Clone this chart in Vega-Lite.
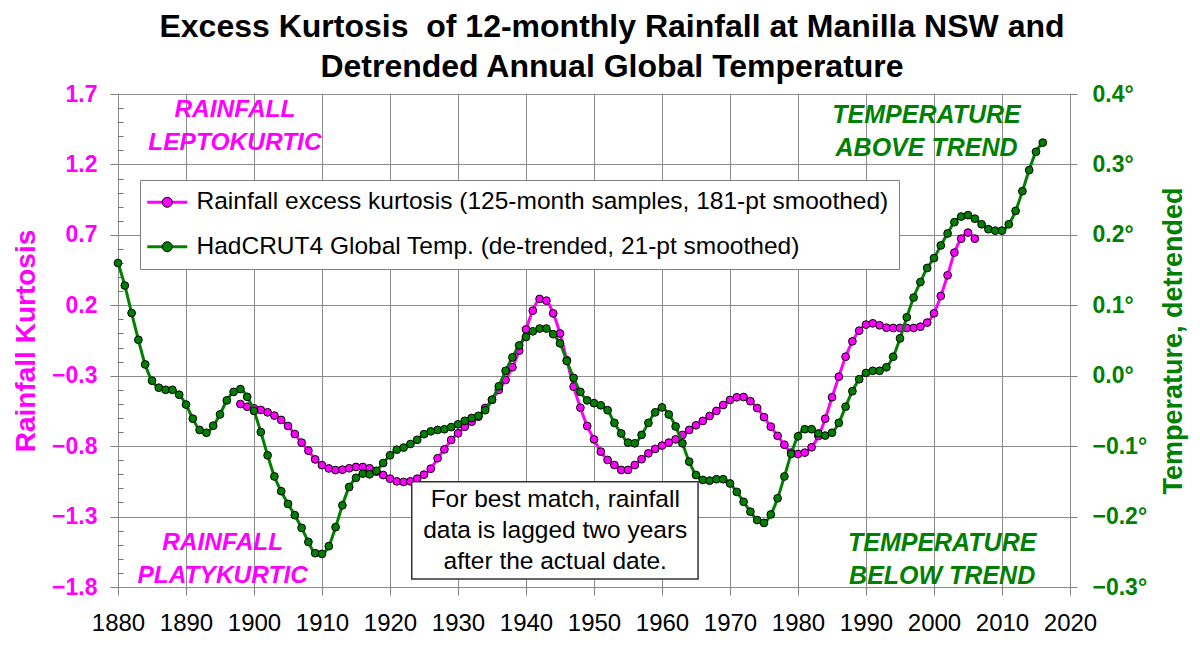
{
  "$schema": "https://vega.github.io/schema/vega-lite/v6.json",
  "width": 952,
  "height": 493,
  "autosize": {"type": "none"},
  "padding": {"left": 118, "top": 94, "right": 130, "bottom": 66},
  "background": "white",
  "config": {
    "font": "Liberation Sans",
    "view": {"stroke": "#707070", "strokeWidth": 1},
    "axis": {"domain": false, "gridColor": "#8c8c8c", "gridOpacity": 1, "tickColor": "#808080", "labelFont": "Liberation Sans", "titleFont": "Liberation Sans"},
    "legend": {"labelFont": "Liberation Sans"}
  },
  "title": {
    "text": ["Excess Kurtosis \u00a0of 12-monthly Rainfall at Manilla NSW and", "Detrended Annual Global Temperature"],
    "font": "Liberation Sans",
    "fontSize": 32,
    "fontWeight": "bold",
    "color": "black",
    "lineHeight": 40,
    "anchor": "middle",
    "dx": 18,
    "offset": -1
  },
  "datasets": {
    "rain": [
      {"year":1898,"k":-0.501},{"year":1899,"k":-0.52},{"year":1900,"k":-0.531},{"year":1901,"k":-0.543},{"year":1902,"k":-0.56},
      {"year":1903,"k":-0.583},{"year":1904,"k":-0.614},{"year":1905,"k":-0.657},{"year":1906,"k":-0.714},{"year":1907,"k":-0.775},
      {"year":1908,"k":-0.832},{"year":1909,"k":-0.894},{"year":1910,"k":-0.935},{"year":1911,"k":-0.958},{"year":1912,"k":-0.97},
      {"year":1913,"k":-0.967},{"year":1914,"k":-0.957},{"year":1915,"k":-0.948},{"year":1916,"k":-0.948},{"year":1917,"k":-0.957},
      {"year":1918,"k":-0.981},{"year":1919,"k":-1.005},{"year":1920,"k":-1.031},{"year":1921,"k":-1.05},{"year":1922,"k":-1.054},
      {"year":1923,"k":-1.05},{"year":1924,"k":-1.031},{"year":1925,"k":-1.002},{"year":1926,"k":-0.96},{"year":1927,"k":-0.886},
      {"year":1928,"k":-0.823},{"year":1929,"k":-0.756},{"year":1930,"k":-0.709},{"year":1931,"k":-0.662},{"year":1932,"k":-0.626},
      {"year":1933,"k":-0.591},{"year":1934,"k":-0.529},{"year":1935,"k":-0.472},{"year":1936,"k":-0.401},{"year":1937,"k":-0.33},
      {"year":1938,"k":-0.24},{"year":1939,"k":-0.122},{"year":1940,"k":0.029},{"year":1941,"k":0.162},{"year":1942,"k":0.245},
      {"year":1943,"k":0.233},{"year":1944,"k":0.143},{"year":1945,"k":0.0},{"year":1946,"k":-0.19},{"year":1947,"k":-0.378},
      {"year":1948,"k":-0.527},{"year":1949,"k":-0.657},{"year":1950,"k":-0.752},{"year":1951,"k":-0.839},{"year":1952,"k":-0.898},
      {"year":1953,"k":-0.934},{"year":1954,"k":-0.969},{"year":1955,"k":-0.969},{"year":1956,"k":-0.934},{"year":1957,"k":-0.893},
      {"year":1958,"k":-0.851},{"year":1959,"k":-0.82},{"year":1960,"k":-0.796},{"year":1961,"k":-0.775},{"year":1962,"k":-0.752},
      {"year":1963,"k":-0.721},{"year":1964,"k":-0.685},{"year":1965,"k":-0.652},{"year":1966,"k":-0.621},{"year":1967,"k":-0.586},
      {"year":1968,"k":-0.55},{"year":1969,"k":-0.508},{"year":1970,"k":-0.472},{"year":1971,"k":-0.453},{"year":1972,"k":-0.451},
      {"year":1973,"k":-0.481},{"year":1974,"k":-0.53},{"year":1975,"k":-0.594},{"year":1976,"k":-0.662},{"year":1977,"k":-0.727},
      {"year":1978,"k":-0.79},{"year":1979,"k":-0.846},{"year":1980,"k":-0.856},{"year":1981,"k":-0.846},{"year":1982,"k":-0.808},
      {"year":1983,"k":-0.728},{"year":1984,"k":-0.605},{"year":1985,"k":-0.453},{"year":1986,"k":-0.307},{"year":1987,"k":-0.165},
      {"year":1988,"k":-0.056},{"year":1989,"k":0.02},{"year":1990,"k":0.063},{"year":1991,"k":0.072},{"year":1992,"k":0.058},
      {"year":1993,"k":0.041},{"year":1994,"k":0.039},{"year":1995,"k":0.039},{"year":1996,"k":0.039},{"year":1997,"k":0.039},
      {"year":1998,"k":0.048},{"year":1999,"k":0.077},{"year":2000,"k":0.143},{"year":2001,"k":0.266},{"year":2002,"k":0.413},
      {"year":2003,"k":0.574},{"year":2004,"k":0.673},{"year":2005,"k":0.716},{"year":2006,"k":0.673}
    ],
    "temp": [
      {"year":1880,"t":0.16},{"year":1881,"t":0.128},{"year":1882,"t":0.089},{"year":1883,"t":0.051},{"year":1884,"t":0.016},
      {"year":1885,"t":-0.007},{"year":1886,"t":-0.017},{"year":1887,"t":-0.02},{"year":1888,"t":-0.02},{"year":1889,"t":-0.027},
      {"year":1890,"t":-0.041},{"year":1891,"t":-0.061},{"year":1892,"t":-0.077},{"year":1893,"t":-0.081},{"year":1894,"t":-0.071},
      {"year":1895,"t":-0.055},{"year":1896,"t":-0.035},{"year":1897,"t":-0.023},{"year":1898,"t":-0.019},{"year":1899,"t":-0.03},
      {"year":1900,"t":-0.05},{"year":1901,"t":-0.08},{"year":1902,"t":-0.113},{"year":1903,"t":-0.143},{"year":1904,"t":-0.164},
      {"year":1905,"t":-0.182},{"year":1906,"t":-0.198},{"year":1907,"t":-0.216},{"year":1908,"t":-0.236},{"year":1909,"t":-0.252},
      {"year":1910,"t":-0.253},{"year":1911,"t":-0.242},{"year":1912,"t":-0.215},{"year":1913,"t":-0.184},{"year":1914,"t":-0.158},
      {"year":1915,"t":-0.145},{"year":1916,"t":-0.139},{"year":1917,"t":-0.14},{"year":1918,"t":-0.135},{"year":1919,"t":-0.124},
      {"year":1920,"t":-0.113},{"year":1921,"t":-0.105},{"year":1922,"t":-0.102},{"year":1923,"t":-0.097},{"year":1924,"t":-0.091},
      {"year":1925,"t":-0.083},{"year":1926,"t":-0.079},{"year":1927,"t":-0.077},{"year":1928,"t":-0.076},{"year":1929,"t":-0.073},
      {"year":1930,"t":-0.069},{"year":1931,"t":-0.064},{"year":1932,"t":-0.06},{"year":1933,"t":-0.057},{"year":1934,"t":-0.049},
      {"year":1935,"t":-0.034},{"year":1936,"t":-0.015},{"year":1937,"t":0.007},{"year":1938,"t":0.026},{"year":1939,"t":0.043},
      {"year":1940,"t":0.055},{"year":1941,"t":0.063},{"year":1942,"t":0.067},{"year":1943,"t":0.067},{"year":1944,"t":0.059},
      {"year":1945,"t":0.046},{"year":1946,"t":0.021},{"year":1947,"t":-0.003},{"year":1948,"t":-0.023},{"year":1949,"t":-0.035},
      {"year":1950,"t":-0.039},{"year":1951,"t":-0.042},{"year":1952,"t":-0.049},{"year":1953,"t":-0.067},{"year":1954,"t":-0.082},
      {"year":1955,"t":-0.095},{"year":1956,"t":-0.096},{"year":1957,"t":-0.084},{"year":1958,"t":-0.067},{"year":1959,"t":-0.052},
      {"year":1960,"t":-0.045},{"year":1961,"t":-0.055},{"year":1962,"t":-0.072},{"year":1963,"t":-0.096},{"year":1964,"t":-0.122},
      {"year":1965,"t":-0.141},{"year":1966,"t":-0.148},{"year":1967,"t":-0.149},{"year":1968,"t":-0.147},{"year":1969,"t":-0.147},
      {"year":1970,"t":-0.153},{"year":1971,"t":-0.165},{"year":1972,"t":-0.179},{"year":1973,"t":-0.193},{"year":1974,"t":-0.205},
      {"year":1975,"t":-0.209},{"year":1976,"t":-0.197},{"year":1977,"t":-0.174},{"year":1978,"t":-0.143},{"year":1979,"t":-0.111},
      {"year":1980,"t":-0.086},{"year":1981,"t":-0.076},{"year":1982,"t":-0.076},{"year":1983,"t":-0.082},{"year":1984,"t":-0.085},
      {"year":1985,"t":-0.081},{"year":1986,"t":-0.067},{"year":1987,"t":-0.044},{"year":1988,"t":-0.022},{"year":1989,"t":-0.005},
      {"year":1990,"t":0.004},{"year":1991,"t":0.007},{"year":1992,"t":0.007},{"year":1993,"t":0.012},{"year":1994,"t":0.027},
      {"year":1995,"t":0.053},{"year":1996,"t":0.083},{"year":1997,"t":0.111},{"year":1998,"t":0.133},{"year":1999,"t":0.153},
      {"year":2000,"t":0.167},{"year":2001,"t":0.185},{"year":2002,"t":0.202},{"year":2003,"t":0.218},{"year":2004,"t":0.226},
      {"year":2005,"t":0.228},{"year":2006,"t":0.223},{"year":2007,"t":0.215},{"year":2008,"t":0.208},{"year":2009,"t":0.206},
      {"year":2010,"t":0.206},{"year":2011,"t":0.215},{"year":2012,"t":0.234},{"year":2013,"t":0.262},{"year":2014,"t":0.292},
      {"year":2015,"t":0.318},{"year":2016,"t":0.331}
    ]
  },
  "layer": [
    {
      "layer": [
        {
          "data": {"name": "rain"},
          "mark": {"type": "line", "strokeWidth": 3, "interpolate": "monotone"},
          "encoding": {
            "x": {"field": "year", "type": "quantitative",
              "scale": {"domain": [1880, 2020], "nice": false, "zero": false},
              "axis": {"values": [1880,1890,1900,1910,1920,1930,1940,1950,1960,1970,1980,1990,2000,2010,2020], "format": "d", "title": null,
                "labelFontSize": 24, "labelColor": "black", "tickSize": 8, "labelPadding": 16, "grid": true, "labelFlush": false, "labelOverlap": false}},
            "y": {"field": "k", "type": "quantitative",
              "scale": {"domain": [-1.8, 1.7], "nice": false, "zero": false},
              "axis": {"orient": "left", "values": [-1.8,-1.3,-0.8,-0.3,0.2,0.7,1.2,1.7], "format": ".1f",
                "labelColor": "#ff00ff", "labelFontSize": 23, "labelFontWeight": "bold", "tickSize": 8, "labelPadding": 13,
                "grid": true, "labelFlush": false, "labelOverlap": false,
                "title": "Rainfall Kurtosis", "titleColor": "#ff00ff", "titleFontSize": 28, "titleFontWeight": "bold", "titlePadding": 11}},
            "stroke": {"datum": "Rainfall excess kurtosis (125-month samples, 181-pt smoothed)", "type": "nominal",
              "scale": {"domain": ["Rainfall excess kurtosis (125-month samples, 181-pt smoothed)", "HadCRUT4 Global Temp. (de-trended, 21-pt smoothed)"], "range": ["#ff00ff", "#008000"]},
              "legend": {"orient": "none", "legendX": 22, "legendY": 86, "title": null,
                "symbolType": "M-1.5,0H2.5", "symbolSize": 400, "symbolStrokeWidth": 3, "symbolFillColor": "transparent",
                "labelFontSize": 24.5, "labelColor": "black", "labelOffset": 22, "labelLimit": 0,
                "padding": 10, "rowPadding": 19.5, "strokeColor": "#808080", "fillColor": "white", "zindex": 1}}
          }
        },
        {
          "data": {"name": "rain"},
          "mark": {"type": "point", "filled": true, "size": 60, "stroke": "black", "strokeWidth": 1, "opacity": 1},
          "encoding": {
            "x": {"field": "year", "type": "quantitative"},
            "y": {"field": "k", "type": "quantitative",
              "scale": {"domain": [-1.8, 1.7], "nice": false, "zero": false},
              "axis": {"orient": "left", "values": [-1.7,-1.6,-1.5,-1.4,-1.2,-1.1,-1.0,-0.9,-0.7,-0.6,-0.5,-0.4,-0.2,-0.1,0.0,0.1,0.3,0.4,0.5,0.6,0.8,0.9,1.0,1.1,1.3,1.4,1.5,1.6],
                "labels": false, "grid": false, "domain": false, "title": null, "tickSize": -5, "tickColor": "#707070"}},
            "fill": {"datum": "R", "type": "nominal",
              "scale": {"domain": ["R", "H"], "range": ["#ff00ff", "#008000"]},
              "legend": {"orient": "none", "legendX": 22, "legendY": 86, "title": null,
                "symbolType": "M1,0A0.5,0.5,0,1,1,0,0A0.5,0.5,0,1,1,1,0Z", "symbolSize": 400,
                "symbolStrokeColor": "black", "symbolStrokeWidth": 1,
                "labelFontSize": 24.5, "labelExpr": "''", "labelOpacity": 0, "labelOffset": 22,
                "padding": 10, "rowPadding": 19.5, "zindex": 2}}
          }
        },
        {
          "data": {"values": [{"x1": 1923.2, "x2": 1965.3, "y1": -1.052, "y2": -1.743}]},
          "mark": {"type": "rect", "fill": "white", "stroke": "#333333", "strokeWidth": 1.5},
          "encoding": {
            "x": {"field": "x1", "type": "quantitative"},
            "x2": {"field": "x2"},
            "y": {"field": "y1", "type": "quantitative", "axis": null},
            "y2": {"field": "y2"}
          }
        },
        {
          "data": {"values": [{"year": 1944.3, "k": -1.182, "label": "For best match, rainfall\ndata is lagged two years\nafter the actual date."}]},
          "mark": {"type": "text", "fontSize": 24.5, "lineHeight": 31, "lineBreak": "\n", "color": "black", "align": "center", "baseline": "middle"},
          "encoding": {
            "x": {"field": "year", "type": "quantitative"},
            "y": {"field": "k", "type": "quantitative", "axis": null},
            "text": {"field": "label"}
          }
        },
        {
          "data": {"values": [
            {"year": 1897.2, "k": 1.586, "label": "RAINFALL\nLEPTOKURTIC"},
            {"year": 1895.4, "k": -1.488, "label": "RAINFALL\nPLATYKURTIC"}
          ]},
          "mark": {"type": "text", "fontSize": 24.5, "fontWeight": "bold", "fontStyle": "italic", "lineHeight": 33, "lineBreak": "\n", "color": "#ff00ff", "align": "center", "baseline": "middle"},
          "encoding": {
            "x": {"field": "year", "type": "quantitative"},
            "y": {"field": "k", "type": "quantitative", "axis": null},
            "text": {"field": "label"}
          }
        },
        {
          "data": {"values": [
            {"year": 1998.9, "k": 1.551, "label": "TEMPERATURE\nABOVE TREND"},
            {"year": 2001.2, "k": -1.488, "label": "TEMPERATURE\nBELOW TREND"}
          ]},
          "mark": {"type": "text", "fontSize": 25, "fontWeight": "bold", "fontStyle": "italic", "lineHeight": 33, "lineBreak": "\n", "color": "#008000", "align": "center", "baseline": "middle"},
          "encoding": {
            "x": {"field": "year", "type": "quantitative"},
            "y": {"field": "k", "type": "quantitative", "axis": null},
            "text": {"field": "label"}
          }
        }
      ],
      "resolve": {"axis": {"y": "independent"}}
    },
    {
      "layer": [
        {
          "data": {"name": "temp"},
          "mark": {"type": "line", "strokeWidth": 3, "interpolate": "monotone"},
          "encoding": {
            "x": {"field": "year", "type": "quantitative", "scale": {"domain": [1880, 2020], "nice": false, "zero": false}},
            "y": {"field": "t", "type": "quantitative",
              "scale": {"domain": [-0.3, 0.4], "nice": false, "zero": false},
              "axis": {"orient": "right", "values": [-0.3,-0.2,-0.1,0,0.1,0.2,0.3,0.4],
                "labelExpr": "format(datum.value, '.1f') + '°'",
                "labelColor": "#008000", "labelFontSize": 23, "labelFontWeight": "bold", "tickSize": 7, "labelPadding": 15,
                "grid": false, "labelFlush": false, "labelOverlap": false,
                "title": "Temperature, detrended", "titleColor": "#008000", "titleFontSize": 27, "titleFontWeight": "bold", "titleAngle": 270, "titlePadding": 41}},
            "stroke": {"datum": "HadCRUT4 Global Temp. (de-trended, 21-pt smoothed)", "type": "nominal"}
          }
        },
        {
          "data": {"name": "temp"},
          "mark": {"type": "point", "filled": true, "size": 60, "stroke": "black", "strokeWidth": 1, "opacity": 1},
          "encoding": {
            "x": {"field": "year", "type": "quantitative"},
            "y": {"field": "t", "type": "quantitative"},
            "fill": {"datum": "H", "type": "nominal"}
          }
        }
      ]
    }
  ],
  "resolve": {"scale": {"y": "independent"}}
}
